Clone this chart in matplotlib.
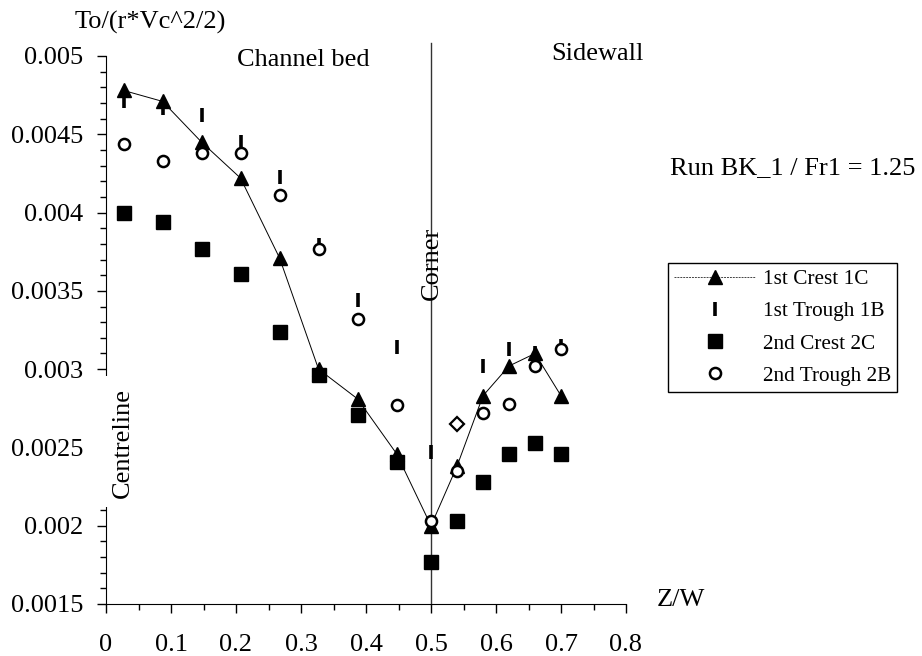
import numpy as np
import matplotlib
matplotlib.use('Agg')
import matplotlib.pyplot as plt
from matplotlib.ticker import MultipleLocator
from matplotlib.lines import Line2D
from matplotlib.patches import Rectangle

plt.rcParams['font.family'] = ['Liberation Serif', 'DejaVu Serif']

# Z/W positions (channel bed then sidewall)
zw = [0.027, 0.087, 0.147, 0.207, 0.267, 0.327, 0.387, 0.447,
      0.50, 0.54, 0.58, 0.62, 0.66, 0.70]

# To/(rho*Vc^2/2) values
crest1 = [0.00478, 0.00471, 0.00445, 0.00422, 0.00371, 0.00300, 0.00281, 0.00246,
          0.00200, 0.00238, 0.00283, 0.00302, 0.00310, 0.00283]
trough1 = [0.00471, 0.00467, 0.00462, 0.00445, 0.00423, 0.00379, 0.00344, 0.00314,
           0.00247, 0.00265, 0.00302, 0.00313, 0.00310, 0.00315]
crest2 = [0.00400, 0.00394, 0.00377, 0.00361, 0.00324, 0.00296, 0.00271, 0.00241,
          0.00177, 0.00203, 0.00228, 0.00246, 0.00253, 0.00246]
trough2 = [0.00444, 0.00433, 0.00438, 0.00438, 0.00411, 0.00377, 0.00332, 0.00277,
           0.00203, 0.00235, 0.00272, 0.00278, 0.00302, 0.00313]

# the 1B point at Z/W = 0.54 is drawn as an open diamond in the original
diamond_idx = 9

fig = plt.figure(figsize=(9.22, 6.56), dpi=100)
ax = fig.add_axes([106 / 922, 52 / 656, 520 / 922, 548 / 656])

zw = np.array(zw)
trough1 = np.array(trough1)
mask = np.arange(len(zw)) != diamond_idx

ax.plot(zw, crest1, color='black', lw=0.7, marker='^', ms=10, zorder=3)
ax.plot(zw[mask], trough1[mask], ls='none', marker='|', ms=9.5, mew=2.6,
        color='black', zorder=3)
ax.plot(zw[diamond_idx], trough1[diamond_idx], ls='none', marker='D', ms=7,
        mfc='white', mec='black', mew=1.6, zorder=3)
ax.plot(zw, crest2, ls='none', marker='s', ms=10, color='black', zorder=3)
ax.plot(zw, trough2, ls='none', marker='o', ms=8, mfc='white', mec='black',
        mew=1.8, zorder=4)

# corner line
ax.plot([0.5, 0.5], [0.0015, 0.00508], color='#333333', lw=1, clip_on=False, zorder=2)

ax.set_xlim(0, 0.8)
ax.set_ylim(0.0015, 0.005)
ax.xaxis.set_minor_locator(MultipleLocator(0.05))
ax.yaxis.set_minor_locator(MultipleLocator(0.0001))
ax.set_xticks(np.arange(0, 0.81, 0.1))
ax.set_xticklabels(['0', '0.1', '0.2', '0.3', '0.4', '0.5', '0.6', '0.7', '0.8'])
ax.set_yticks(np.arange(0.0015, 0.00501, 0.0005))
ax.set_yticklabels(['0.0015', '0.002', '0.0025', '0.003', '0.0035', '0.004',
                    '0.0045', '0.005'])
for s in ['top', 'right']:
    ax.spines[s].set_visible(False)
ax.tick_params(which='major', length=6.5, width=1, labelsize=19, pad=10)
ax.tick_params(axis='x', which='major', pad=15)
ax.tick_params(which='minor', length=4.5, width=1)

# white patch where the Centreline label breaks the y axis
fig.patches.append(Rectangle((97 / 922, 1 - 507 / 656), 38 / 922, 131 / 656,
                             transform=fig.transFigure, facecolor='white',
                             edgecolor='none', zorder=5))

def ftext(x, y, s, **kw):
    fig.text(x / 922, 1 - y / 656, s, ha='center', va='center', zorder=6, **kw)

ftext(150, 22, 'To/(r*Vc^2/2)', fontsize=19)
ftext(303, 60, 'Channel bed', fontsize=19)
ftext(597, 54, 'Sidewall', fontsize=19)
ftext(793, 168, 'Run BK_1 / Fr1 = 1.25', fontsize=19)
ftext(432, 263, 'Corner', fontsize=19, rotation=90)
ftext(123, 443, 'Centreline', fontsize=19, rotation=90)
ftext(681, 600, 'Z/W', fontsize=19)

handles = [
    Line2D([], [], color='#444444', lw=0.7, ls=(0, (2, 1)), marker='^', ms=10,
           mfc='black', mec='black'),
    Line2D([], [], ls='none', marker='|', ms=9.5, mew=2.6, color='black'),
    Line2D([], [], ls='none', marker='s', ms=10, color='black'),
    Line2D([], [], ls='none', marker='o', ms=8, mfc='white', mec='black', mew=1.8),
]
labels = ['1st Crest 1C', '1st Trough 1B', '2nd Crest 2C', '2nd Trough 2B']
leg = fig.legend(handles, labels, loc='upper left',
                 bbox_to_anchor=(668 / 922, 1 - 263 / 656), fontsize=15.3,
                 frameon=True, fancybox=False, edgecolor='black', framealpha=1,
                 handlelength=3.8, handletextpad=0.35, labelspacing=0.58,
                 borderpad=0.3, borderaxespad=0)
leg.get_frame().set_linewidth(1)

fig.savefig('out.png', dpi=100)
